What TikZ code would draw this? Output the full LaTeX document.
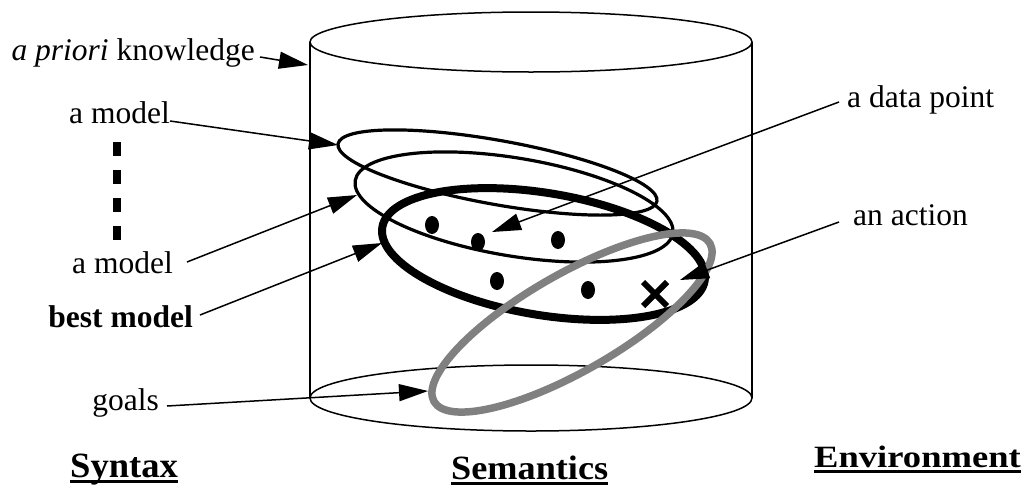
\documentclass[tikz,border=0pt]{standalone}
\usepackage{fontspec}
\setmainfont{Liberation Serif}
\usepackage{graphicx}
\usetikzlibrary{arrows.meta}
\definecolor{goalgray}{RGB}{128,128,128}
\newcommand\myul[1]{\setbox0=\hbox{#1}\rlap{\rule[-6pt]{\wd0}{3pt}}\box0}
\begin{document}
\begin{tikzpicture}[x=1pt,y=-1pt,
  lbl/.style={inner sep=0pt, font=\fontsize{31.5}{36}\selectfont},
  ttl/.style={inner sep=0pt, anchor=base west},
  conn/.style={line width=1.5pt, -{Triangle[length=29pt,width=17pt]}},
  cyl/.style={line width=1.5pt},
  thinell/.style={line width=3.2pt},
  bestell/.style={line width=8pt},
  goalell/.style={line width=7.5pt, draw=goalgray},
  dashbar/.style={line width=8pt, dash pattern=on 14pt off 14pt},
  crossmark/.style={line width=6pt}]
\useasboundingbox (0,0) rectangle (1027,488);

% cylinder
\draw[cyl] (531,42) ellipse [x radius=221, y radius=30];
\draw[cyl] (531,398) ellipse [x radius=221, y radius=33];
\draw[cyl] (310,42) -- (310,398);
\draw[cyl] (752,42) -- (752,398);

% models
\draw[thinell, rotate around={-10.2:(497.5,172.5)}] (497.5,172.5) ellipse [x radius=162, y radius=32];
\draw[thinell, rotate around={-9.45:(514,207)}] (514,207) ellipse [x radius=161, y radius=49];
\draw[bestell, rotate around={-9.44:(543.5,254)}] (543.5,254) ellipse [x radius=163.4, y radius=61];

% data points
\foreach \p in {(432,225),(478,242),(558,240),(497,281),(588,290)}
  \fill \p ellipse [x radius=7, y radius=9];

% goals
\draw[goalell, rotate around={29.8:(572,322.5)}] (572,322.5) ellipse [x radius=159, y radius=48.6];

% action
\draw[crossmark] (643,282) -- (667,306) (643,306) -- (667,282);

% dashed bar
\draw[dashbar] (117,142) -- (117,240);

% labels
\node[lbl, anchor=base east] (kn) at (255,60) {\textit{a priori} knowledge};
\node[lbl, anchor=base east] (m1) at (170,123) {a model};
\node[lbl, anchor=base east] (m2) at (173,273) {a model};
\node[lbl, anchor=base east, font=\bfseries\fontsize{31.5}{36}\selectfont] (bm) at (193,327) {best model};
\node[lbl, anchor=base east] (gl) at (159,410) {goals};
\node[lbl, anchor=base west] (dp) at (847,107) {a data point};
\node[lbl, anchor=base west] (ac) at (853,225) {an action};

\node[ttl, font=\bfseries\fontsize{35.5}{40}\selectfont] (syn) at (70,477) {\scalebox{1.03}[1]{\myul{Syntax}}};
\node[ttl, font=\bfseries\fontsize{34}{40}\selectfont] (sem) at (451,479) {\scalebox{1.066}[1]{\myul{Semantics}}};
\node[ttl, font=\bfseries\fontsize{31}{36}\selectfont] (env) at (814,467) {\scalebox{1.18}[1]{\myul{Environment}}};

% arrow tips
\coordinate (tipK) at (308,65);
\coordinate (tipM1) at (338,145);
\coordinate (tipM2) at (357,195);
\coordinate (tipB) at (382,243);
\coordinate (tipG) at (428,391);
\coordinate (tipD) at (492,232);
\coordinate (tipA) at (680,280);

% connectors
\draw[conn] ([shift={(5,-3)}]kn.base east) -- (tipK);
\draw[conn] ([shift={(0,-2)}]m1.base east) -- (tipM1);
\draw[conn] ([shift={(14,-11)}]m2.base east) -- (tipM2);
\draw[conn] ([shift={(7,-12)}]bm.base east) -- (tipB);
\draw[conn] ([shift={(8,-4)}]gl.base east) -- (tipG);
\draw[conn] ([shift={(-8,-5)}]dp.base west) -- (tipD);
\draw[conn] ([shift={(-14,-3)}]ac.base west) -- (tipA);
\end{tikzpicture}
\end{document}
